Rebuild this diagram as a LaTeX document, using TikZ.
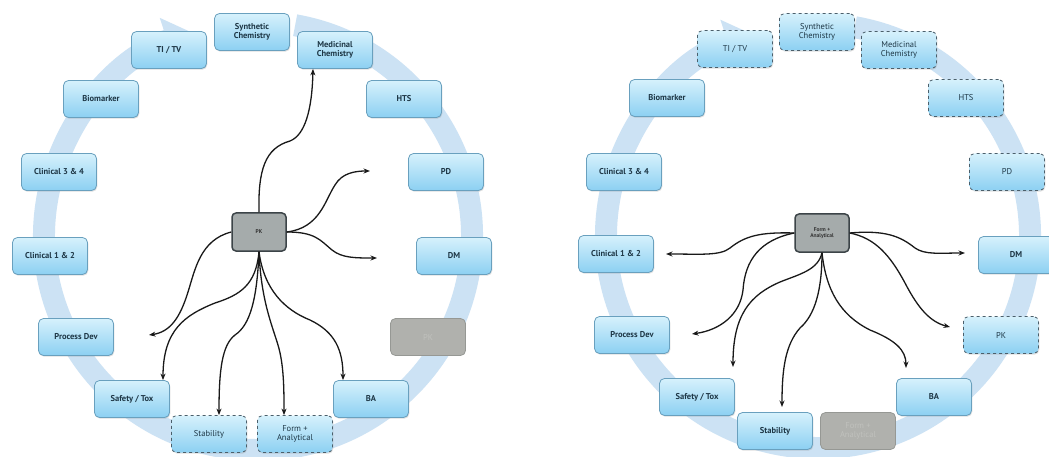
\documentclass[tikz,border=0pt]{standalone}
\usepackage{fontspec}
\setmainfont{PT Sans}
\usetikzlibrary{arrows.meta,shadows}
\definecolor{ringc}{RGB}{204,226,244}
\definecolor{boxtop}{RGB}{214,241,252}
\definecolor{boxbot}{RGB}{140,208,242}
\definecolor{boxline}{RGB}{105,160,190}
\definecolor{boxtext}{RGB}{30,55,70}
\definecolor{hubfill}{RGB}{165,171,171}
\definecolor{hubline}{RGB}{60,68,72}
\definecolor{fadefill}{RGB}{176,177,173}
\definecolor{fadeline}{RGB}{150,152,148}
\definecolor{fadetext}{RGB}{192,193,189}
\begin{document}
\begin{tikzpicture}[x=1pt,y=-1pt,
  ring/.style={draw=ringc, line width=22pt, -{Triangle[width=46pt,length=26pt]}},
  box/.style={draw=boxline, line width=0.8pt, rounded corners=5pt,
    minimum width=75pt, minimum height=37pt, top color=boxtop, bottom color=boxbot,
    align=center, font=\bfseries\fontsize{8.5}{9.5}\selectfont, text=boxtext, inner sep=2pt,
    drop shadow={opacity=0.25, shadow xshift=0.8pt, shadow yshift=-1.2pt}},
  dbox/.style={box, dashed, draw=boxtext!80, font=\fontsize{8.5}{9.5}\selectfont},
  fade/.style={draw=fadeline, line width=0.8pt, rounded corners=5pt, fill=fadefill,
    minimum width=75pt, minimum height=37pt, align=center, text=fadetext,
    font=\fontsize{8.5}{9.5}\selectfont},
  hub/.style={draw=hubline, line width=1.5pt, rounded corners=4pt, fill=hubfill,
    minimum width=54pt, minimum height=38pt, align=center, text=black!80,
    font=\bfseries\fontsize{5.5}{6}\selectfont, inner sep=1pt},
  conn/.style={-{Stealth[length=6.5pt,width=5pt]}, line width=1.3pt, black!90}
]
\useasboundingbox (0,0) rectangle (1049,457);
\fill[white] (0,0) rectangle (1049,457);

% ---------------- rings ----------------
\coordinate (cL) at (258,236);
\coordinate (cR) at (818,236);
\draw[ring] (cL) ++(-80:214) arc[start angle=-80, end angle=252, radius=214];
\draw[ring] (cR) ++(-80:212) arc[start angle=-80, end angle=252, radius=212];

% ---------------- left diagram ----------------
\node[box]  (lSC)  at (252,32)  {Synthetic\\Chemistry};
\node[box]  (lTI)  at (169,50)  {TI / TV};
\node[box]  (lMC)  at (335,50)  {Medicinal\\Chemistry};
\node[box]  (lBM)  at (101,99)  {Biomarker};
\node[box]  (lHTS) at (404,99)  {HTS};
\node[box]  (lC34) at (59,172)  {Clinical 3 \& 4};
\node[box]  (lPD)  at (446,172) {PD};
\node[box]  (lC12) at (50,256)  {Clinical 1 \& 2};
\node[box]  (lDM)  at (454,256) {DM};
\node[box]  (lPDv) at (76,337)  {Process Dev};
\node[fade] (lPK)  at (428,337) {PK};
\node[box]  (lST)  at (132,399) {Safety / Tox};
\node[box]  (lBA)  at (371,399) {BA};
\node[dbox] (lSt)  at (209,434) {Stability};
\node[dbox] (lFA)  at (295,434) {Form +\\Analytical};
\node[hub]  (lHub) at (259,232) {PK};

\coordinate (lE1) at (370,171);
\coordinate (lE2) at (377,258);
\coordinate (lE3) at (149,335);

\draw[conn] (lHub.north) .. controls (258,170) and (265,148) .. (290,141)
  .. controls (305,135) and (312,110) .. ([xshift=-22pt]lMC.south);
\draw[conn] (lHub.east) .. controls (320,228) and (325,200) .. (335,185)
  .. controls (342,173) and (355,171) .. (lE1);
\draw[conn] (lHub.east) .. controls (315,232) and (320,240) .. (332,250)
  .. controls (342,258) and (355,258) .. (lE2);
\draw[conn] (lHub.west) .. controls (200,240) and (195,270) .. (188,292)
  .. controls (180,318) and (170,332) .. (lE3);
\draw[conn] (lHub.south) .. controls (256,285) and (240,295) .. (215,303)
  .. controls (185,315) and (163,330) .. ([xshift=31pt]lST.north);
\draw[conn] (lHub.south) .. controls (257,300) and (250,325) .. (235,335)
  .. controls (222,345) and (219,370) .. ([xshift=10pt]lSt.north);
\draw[conn] (lHub.south) .. controls (261,300) and (272,325) .. (278,345)
  .. controls (284,365) and (284,390) .. ([xshift=-11pt]lFA.north);
\draw[conn] (lHub.south) .. controls (264,290) and (285,310) .. (310,320)
  .. controls (335,332) and (343,350) .. ([xshift=-28pt]lBA.north);

% ---------------- right diagram ----------------
\node[dbox] (rSC)  at (817,32)  {Synthetic\\Chemistry};
\node[dbox] (rTI)  at (735,49)  {TI / TV};
\node[dbox] (rMC)  at (899,50)  {Medicinal\\Chemistry};
\node[box]  (rBM)  at (667,98)  {Biomarker};
\node[dbox] (rHTS) at (966,98)  {HTS};
\node[box]  (rC34) at (624,172) {Clinical 3 \& 4};
\node[dbox] (rPD)  at (1007,172) {PD};
\node[box]  (rC12) at (616,254) {Clinical 1 \& 2};
\node[box]  (rDM)  at (1016,255) {DM};
\node[box]  (rPDv) at (632,335) {Process Dev};
\node[dbox] (rPK)  at (1001,335) {PK};
\node[box]  (rST)  at (697,397) {Safety / Tox};
\node[box]  (rBA)  at (934,397) {BA};
\node[box]  (rSt)  at (775,431) {Stability};
\node[fade] (rFA)  at (858,431) {Form +\\Analytical};
\node[hub]  (rHub) at (822,233) {Form +\\Analytical};

\coordinate (rE1) at (666,254);
\coordinate (rE2) at (692,334);
\coordinate (rE3) at (733,367);
\coordinate (rE4) at (782,407);
\coordinate (rE5) at (906,368);
\coordinate (rE6) at (950,327);
\coordinate (rE7) at (965,253);

\draw[conn] (rHub.west) .. controls (760,232) and (745,236) .. (730,248)
  .. controls (720,256) and (700,254) .. (rE1);
\draw[conn] (rHub.west) .. controls (760,240) and (745,260) .. (743,290)
  .. controls (740,315) and (720,330) .. (rE2);
\draw[conn] (rHub.south) .. controls (818,270) and (800,274) .. (780,282)
  .. controls (750,295) and (733,315) .. (rE3);
\draw[conn] (rHub.south) .. controls (822,290) and (815,315) .. (800,328)
  .. controls (785,345) and (782,370) .. (rE4);
\draw[conn] (rHub.south) .. controls (826,290) and (840,315) .. (870,330)
  .. controls (895,340) and (906,350) .. (rE5);
\draw[conn] (rHub.east) .. controls (875,238) and (890,255) .. (905,283)
  .. controls (918,308) and (930,322) .. (rE6);
\draw[conn] (rHub.east) .. controls (885,230) and (900,236) .. (915,248)
  .. controls (925,255) and (940,253) .. (rE7);
\end{tikzpicture}
\end{document}
